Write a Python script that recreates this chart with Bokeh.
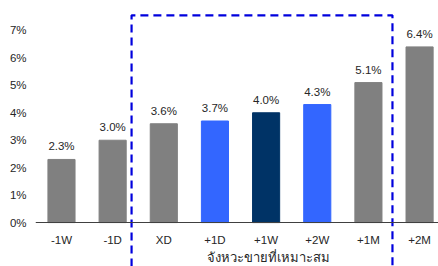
from bokeh.plotting import figure
from bokeh.models import ColumnDataSource, Range1d, FixedTicker
from bokeh.embed import file_html
from bokeh.resources import INLINE
from bokeh.core.properties import value

categories = ["-1W", "-1D", "XD", "+1D", "+1W", "+2W", "+1M", "+2M"]
values = [2.3, 3.0, 3.6, 3.7, 4.0, 4.3, 5.1, 6.4]
labels = ["2.3%", "3.0%", "3.6%", "3.7%", "4.0%", "4.3%", "5.1%", "6.4%"]
colors = ["#808080", "#808080", "#808080", "#3366FF", "#003366", "#3366FF", "#808080", "#808080"]
y_ticks = [0, 1, 2, 3, 4, 5, 6, 7]
window_label = "จังหวะขายที่เหมาะสม"

FONT = "Liberation Sans"
FS = "11.5px"
xs = list(range(len(categories)))
src = ColumnDataSource(dict(x=xs, top=values, label=labels, color=colors))

p = figure(width=438, height=266, output_backend="svg", toolbar_location=None,
           x_range=Range1d(-0.508, 7.37), y_range=Range1d(-1.60, 8.09),
           min_border_left=35, min_border_right=0, min_border_top=0, min_border_bottom=0)
p.outline_line_color = None
p.grid.visible = False
p.background_fill_color = "white"
p.border_fill_color = "white"

p.vbar(x="x", top="top", bottom=0, width=0.53, color="color", source=src)
p.text(x="x", y="top", text="label", source=src, text_align="center", text_baseline="bottom",
       y_offset=-7, text_font=value(FONT), text_font_size=FS, text_color="#262626")

# x axis at 0
p.xaxis.fixed_location = 0
p.xaxis.ticker = FixedTicker(ticks=xs)
p.xaxis.major_label_overrides = {i: c for i, c in zip(xs, categories)}
p.xaxis.major_tick_line_color = None
p.xaxis.major_tick_out = 0
p.xaxis.major_tick_in = 0
p.xaxis.minor_tick_line_color = None
p.xaxis.major_label_standoff = 11
p.xaxis.axis_line_color = "#404040"
p.xaxis.major_label_text_font = FONT
p.xaxis.major_label_text_font_size = FS
p.xaxis.major_label_text_color = "#262626"

p.yaxis.ticker = FixedTicker(ticks=y_ticks)
p.yaxis.major_label_overrides = {t: f"{t}%" for t in y_ticks}
p.yaxis.axis_line_color = None
p.yaxis.major_tick_line_color = None
p.yaxis.major_tick_out = 0
p.yaxis.major_tick_in = 0
p.yaxis.minor_tick_line_color = None
p.yaxis.major_label_standoff = 9
p.yaxis.major_label_text_font = FONT
p.yaxis.major_label_text_font_size = FS
p.yaxis.major_label_text_color = "#262626"

# dashed window box around XD .. +1M
x_left = 1 + 0.37
x_right = 6 + 0.47
y_top = 7.55
y_bot = -1.60
p.line(x=[x_left, x_left, x_right, x_right], y=[y_bot, y_top, y_top, y_bot],
       line_color="#0000DD", line_width=2.2, line_dash="8 5")

p.text(x=[4.05], y=[-1.28], text=[window_label], text_align="center", text_baseline="middle",
       text_font=value(FONT), text_font_size="13px", text_color="#262626")

open("out.html", "w").write(file_html(p, INLINE))
